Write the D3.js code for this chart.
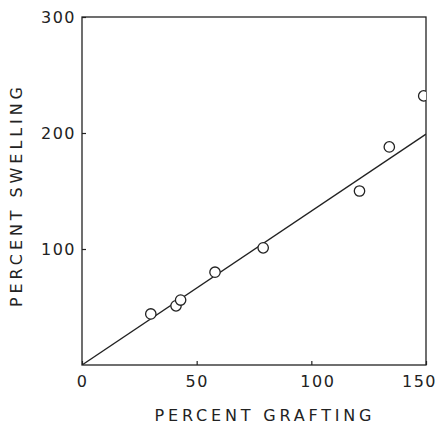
<!DOCTYPE html>
<html>
<head>
<meta charset="utf-8">
<script src="https://cdnjs.cloudflare.com/ajax/libs/d3/7.8.5/d3.min.js"></script>
<style>
  body { margin: 0; background: #fff; }
  svg text { font-family: "DejaVu Sans", sans-serif; font-weight: normal; }
</style>
</head>
<body>
<script>
// Points (percent grafting vs percent swelling)
var grafting = [30, 41, 43, 58, 79, 121, 134, 149];
var swelling = [44, 51, 56, 80, 101, 150, 188, 232];

// Fitted line through origin
var fitX = [0, 150];
var fitY = [0, 199];

var xTicks = [0, 50, 100, 150];
var yTicks = [100, 200, 300];

var width = 439, height = 424;
var margin = {left: 82, right: 13, top: 17, bottom: 59};

var svg = d3.select('body').append('svg')
    .attr('width', width)
    .attr('height', height);

var x = d3.scaleLinear().domain([0, 150]).range([margin.left, width - margin.right]);
var y = d3.scaleLinear().domain([0, 300]).range([height - margin.bottom, margin.top]);

var ink = '#222';

// clip so the last point gets cut by the frame like in the print
svg.append('clipPath').attr('id', 'plotclip')
  .append('rect')
    .attr('x', x(0)).attr('y', y(300))
    .attr('width', x(150) - x(0)).attr('height', y(0) - y(300));

// Axes with inward ticks
var xAxis = d3.axisBottom(x).tickValues(xTicks).tickSize(-4).tickPadding(8).tickFormat(d3.format('d'));
var yAxis = d3.axisLeft(y).tickValues(yTicks).tickSize(-4).tickPadding(6).tickFormat(d3.format('d'));

var gx = svg.append('g').attr('transform', 'translate(0,' + y(0) + ')').call(xAxis);
var gy = svg.append('g').attr('transform', 'translate(' + x(0) + ',0)').call(yAxis);

[gx, gy].forEach(function(g){
    g.select('.domain').remove();
    g.selectAll('line').attr('stroke', ink).attr('stroke-width', 1.2);
    g.selectAll('text')
        .style('font-size', '16px')
        .style('letter-spacing', '1.5px')
        .attr('fill', ink);
});
gx.selectAll('text').attr('dy', '0.9em');
gy.selectAll('text').attr('dy', '0.35em');
// last label sits against the page edge in the print
gx.selectAll('.tick text').filter(function(d){ return d === 150; }).attr('dx', -7);
gx.selectAll('.tick text').filter(function(d){ return d === 100; }).attr('dx', 6);

// Frame
svg.append('rect')
    .attr('x', x(0)).attr('y', y(300))
    .attr('width', x(150) - x(0)).attr('height', y(0) - y(300))
    .attr('fill', 'none')
    .attr('stroke', ink)
    .attr('stroke-width', 1.3);

var plot = svg.append('g').attr('clip-path', 'url(#plotclip)');

// Fit line
plot.append('line')
    .attr('x1', x(fitX[0])).attr('y1', y(fitY[0]))
    .attr('x2', x(fitX[1])).attr('y2', y(fitY[1]))
    .attr('stroke', ink)
    .attr('stroke-width', 1.3);

// Points
plot.selectAll('circle')
    .data(grafting.map(function(g, i){ return {g: g, s: swelling[i]}; }))
  .enter().append('circle')
    .attr('cx', function(d){ return x(d.g); })
    .attr('cy', function(d){ return y(d.s); })
    .attr('r', 5.2)
    .attr('fill', '#fff')
    .attr('stroke', ink)
    .attr('stroke-width', 1.3);

// Axis titles
svg.append('text')
    .attr('x', 263).attr('y', 421)
    .attr('text-anchor', 'middle')
    .attr('textLength', 217)
    .attr('fill', ink)
    .style('font-size', '16px')
    .text('PERCENT GRAFTING');

svg.append('text')
    .attr('transform', 'translate(22,197) rotate(-90)')
    .attr('text-anchor', 'middle')
    .attr('textLength', 220)
    .attr('fill', ink)
    .style('font-size', '16px')
    .text('PERCENT SWELLING');
</script>
</body>
</html>
